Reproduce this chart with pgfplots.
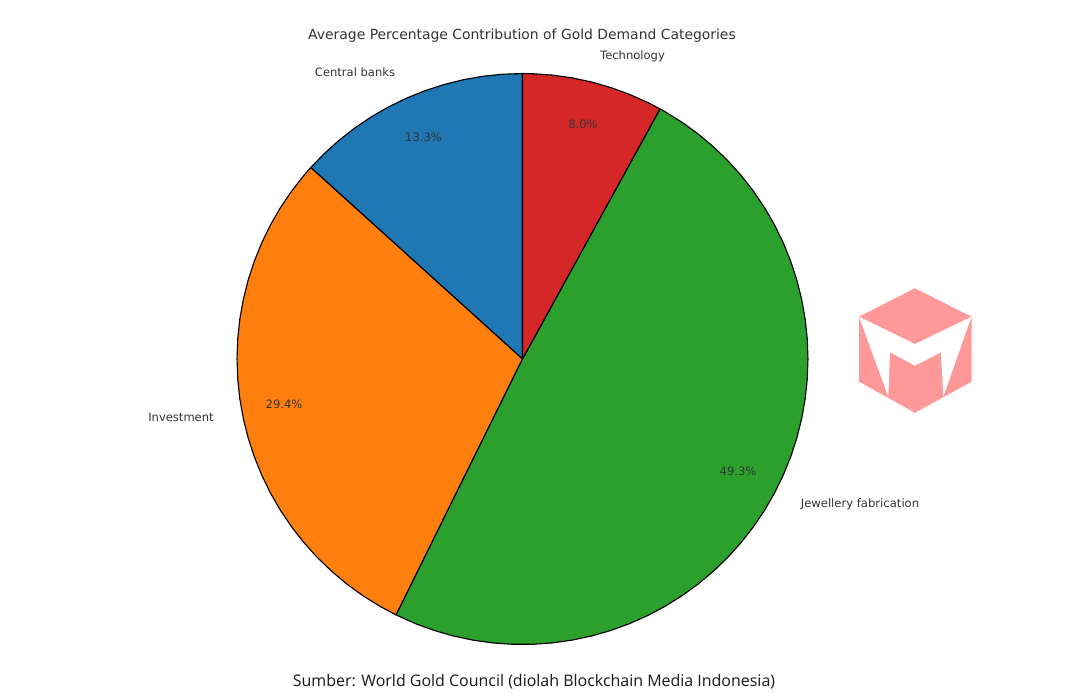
\documentclass[border=0pt]{standalone}
\usepackage{pgfplots}
\usepgfplotslibrary{polar}
\pgfplotsset{compat=1.18}
\usepackage{fontspec}
\setmainfont{DejaVu Sans}
\newfontfamily\opensans{Open Sans}
\definecolor{tabblue}{HTML}{1F77B4}
\definecolor{taborange}{HTML}{FF7F0E}
\definecolor{tabgreen}{HTML}{2CA02C}
\definecolor{tabred}{HTML}{D62728}
\definecolor{txt}{HTML}{333333}
\definecolor{logo}{HTML}{FF9999}
\newcommand\T[4]{\node[text=txt,inner sep=0pt,font=\fontsize{#3}{#3}\selectfont] at ({#1*0.75pt},{(700-#2)*0.75pt}) {#4};}
\newcommand\PX[2]{({#1*0.75pt},{(700-#2)*0.75pt})}
\begin{document}
\begin{tikzpicture}
\path[use as bounding box] (0,0) rectangle (801pt,525pt);
\begin{polaraxis}[
  at={(391.875pt,255.75pt)}, anchor=center,
  scale only axis, width=428.2pt, height=428.2pt,
  hide axis, clip=false,
  xmin=0, xmax=360, ymin=0, ymax=1,
]
% Central banks 13.3
\addplot[fill=tabblue,draw=black,line width=0.85pt,line join=round] coordinates {(0,0)(90,1)(94,1)(98,1)(102,1)(106,1)(110,1)(114,1)(118,1)(122,1)(126,1)(130,1)(134,1)(137.88,1)} -- cycle;
% Investment 29.4
\addplot[fill=taborange,draw=black,line width=0.85pt,line join=round] coordinates {(0,0)(137.88,1)(140,1)(144,1)(148,1)(152,1)(156,1)(160,1)(164,1)(168,1)(172,1)(176,1)(180,1)(184,1)(188,1)(192,1)(196,1)(200,1)(204,1)(208,1)(212,1)(216,1)(220,1)(224,1)(228,1)(232,1)(236,1)(240,1)(243.72,1)} -- cycle;
% Jewellery fabrication 49.3
\addplot[fill=tabgreen,draw=black,line width=0.85pt,line join=round] coordinates {(0,0)(243.72,1)(248,1)(252,1)(256,1)(260,1)(264,1)(268,1)(272,1)(276,1)(280,1)(284,1)(288,1)(292,1)(296,1)(300,1)(304,1)(308,1)(312,1)(316,1)(320,1)(324,1)(328,1)(332,1)(336,1)(340,1)(344,1)(348,1)(352,1)(356,1)(360,1)(364,1)(368,1)(372,1)(376,1)(380,1)(384,1)(388,1)(392,1)(396,1)(400,1)(404,1)(408,1)(412,1)(416,1)(420,1)(421.2,1)} -- cycle;
% Technology 8.0
\addplot[fill=tabred,draw=black,line width=0.85pt,line join=round] coordinates {(0,0)(61.2,1)(64,1)(68,1)(72,1)(76,1)(80,1)(84,1)(88,1)(90,1)} -- cycle;
\end{polaraxis}
\T{522}{35.5}{10.43}{Average Percentage Contribution of Gold Demand Categories}
\T{355}{72}{8.65}{Central banks}
\T{632.5}{56}{8.65}{Technology}
\T{181}{417}{8.65}{Investment}
\T{860}{504}{8.7}{Jewellery fabrication}
\T{423.5}{137}{8.65}{13.3\%}
\T{583}{124}{8.65}{8.0\%}
\T{284}{404}{8.65}{29.4\%}
\T{738}{471}{8.65}{49.3\%}
\node[text=black!90,inner sep=0pt,font=\opensans\fontsize{11.97}{11.97}\selectfont] at ({534*0.75pt},{(700-681.5)*0.75pt}) {Sumber: World Gold Council (diolah Blockchain Media Indonesia)};
% logo
\fill[logo] \PX{915}{288.3} -- \PX{971.5}{316.7} -- \PX{971.5}{381.7} -- \PX{915}{412.8} -- \PX{859}{381.7} -- \PX{859}{316.7} -- cycle;
\fill[white] \PX{859}{316.7} -- \PX{915}{344} -- \PX{971.5}{316.7} -- \PX{943.3}{396.7} -- \PX{941}{352.3} -- \PX{915}{365.7} -- \PX{890}{352.3} -- \PX{888.3}{396.7} -- cycle;
\end{tikzpicture}
\end{document}
